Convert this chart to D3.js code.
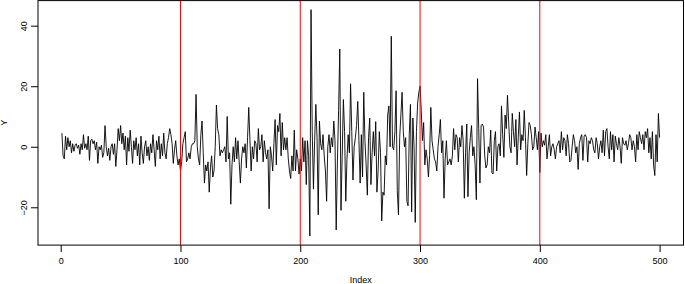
<!DOCTYPE html>
<html>
<head>
<meta charset="utf-8">
<script src="https://cdn.jsdelivr.net/npm/d3@7"></script>
<style>
  html, body { margin: 0; padding: 0; background: #fff; }
  svg { display: block; }
  text { font-family: "Liberation Sans", Arial, Helvetica, sans-serif; }
</style>
</head>
<body>
<svg id="chart" width="685" height="284"></svg>
<script>
// Series values, one array per 100-point stretch
const y001_100 = [4.5, -3, -4, 3.5, -1, 3, 0, 2, -2, 1,
  -1.5, 0.5, 1, -0.5, 0.5, -2.5, 1, -1, 4, -0.5,
  1, -1, 3.5, -4.5, 2, 2.5, 1, 2, -1, 1.5,
  -5.5, 0, -1, 0.5, -3.5, -2, 7, 0, -3, -0.5,
  -4.5, 0, 1, -2.5, 1, -6.5, -1, 6, 2, 7,
  1, 4.5, -1, 3.5, -6, 3, -1.5, 5.5, 0, -5.5,
  2, -1, 3, -3, 1, -6, 3.5, -2, -5.5, 0,
  2, -3, 0, -4.5, 1, -2, 4, -1, -6.5, 2,
  -1, 3.5, -4, 1, -3, 4.5, -2, -4, 1, 3,
  6, 4, 1, -5.5, -1, 2, -3, -6, -4, -8];
const y101_200 = [-5, 1, 3, 5, -5, -4, -2, -4, 0, 1,
  1, 2, 17.3, 0, -4, -6, 4, 8.5, -2, -12,
  -6, -8, -5, -15, -7, -3, -10, -8, 0, 13.8,
  6, 4, -3, -1, -2, -1, 0, -5, 10, -4,
  -2, -19, -6, 0, -5, 3, -4, 2, -5, -12,
  -4, 0, -2, 1, -7, 3, 13, 2, -8, 0,
  -4, 2, 1, -5, 6, -1, 0, 4, -5, 2,
  -2, -4, -1, -20.5, 0, -3, -8, 1, 9, -6,
  7, 5, 11, -3, 8, -1, 3, -1, 3, -4,
  -8, -10.5, -3, -8, 5.5, -8, -1, -4, -9, -4];
const y201_300 = [-8, 3, -5, 2, -12.5, 2, -3, -29.5, 45.3, 5,
  -14, 2, 14, 3, -22.5, 8.5, 1, -1, 4, -3,
  -8, -18, 0, 4, -2, 3, 0, 8.5, 2, -27.5,
  -5, 12, 32.3, -21, -3, 15.6, 5, -18, -4, 4,
  -2, 20.8, 5, -11, 0, 3, 7, 15, 2, -12,
  4, -10, 18, 2, -6, -16, 3, 9.5, -12.5, -2,
  5, -3, 8.3, -15, -8, 5, -2, -24.5, -15, -16,
  -3, -6, 10.5, 13.5, 0, 36.5, 0, -1, 5, 18.5,
  -14.5, -22.5, 3, 10.5, 18, 5, 0, 3, -18, -19.5,
  4, 14, -21.5, 9.5, 0, -25, 5, 14.5, 18, 20];
const y301_400 = [12, 2, 8, -6, -1, -4, -10, -3, 13, 2,
  -1, -4, -5, -8, 0, 4, 9, -2, 2, -17,
  -4, 2, -6, -5, -4, -6, -3, 6, -1, 4,
  3, -5, 3, 0, 7, 2, -17, -2, 7.5, -16.5,
  -2, 3, 7, -3, 0, -6, -17.5, 22.5, 6, -12,
  7, 7.5, 6.5, -3, -7, -6, 0, -2, 5.5, -8.5,
  -9, 2, 5, -8, 0, 1, -3, 13.5, 4, -3.5,
  10.5, 6, 17, 8, 0, -2, 11, 5, 0, 9,
  -6, 3, 11.5, -1, 4, 2, 12, 3, -9.5, 1,
  8, 7, 4, -1, 0, 6.5, 3, -1, 5, -8.5];
const y401_500 = [4.5, 0, 2, 0.5, 4, -4, 0, 4, -3, 0,
  1, -1, -4, 0, 1, 2, -2, 5, -1, 3,
  2, -3, 4, 1, -5, -4.5, 0, 4, 2, -2,
  0, -7.5, 1, 3, 4, -4.5, 3.5, 4, 3, -5,
  2, 1, 3, 2, -1, -2, 3, 1, -4, 0,
  2, -2, 5.5, -3, 5, 6, 0, -4, 5, -1,
  4, -5, 3.5, 1, -1, 3, 0, -5.5, 3, 1,
  0.5, 2, -1, 1, 4, 3, -1, 2, 0, -5,
  4, -1, 5, 3, 1, 4, -1, 5, 3, 6,
  -2, 3, -4, 5, -6, -9.5, 4, -5, 11, 3];

const vlines = [100, 200, 300, 400];
const xTicks = [0, 100, 200, 300, 400, 500];
const yTicks = [-20, 0, 20, 40];
const xLabel = "Index";
const yLabel = "Y";

const values = [].concat(y001_100, y101_200, y201_300, y301_400, y401_500);
const idx = values.map((d, i) => i + 1);

const box = { left: 38, right: 683.5, top: 0.6, bottom: 245.1 };

// R-style 4% domain extension
const xr = d3.extent(idx), yr = d3.extent(values);
const xe = (xr[1] - xr[0]) * 0.04, ye = (yr[1] - yr[0]) * 0.04;
const x = d3.scaleLinear().domain([xr[0] - xe, xr[1] + xe]).range([box.left, box.right]);
const y = d3.scaleLinear().domain([yr[0] - ye, yr[1] + ye]).range([box.bottom, box.top]);

const svg = d3.select("#chart");
svg.append("rect").attr("width", 685).attr("height", 284).attr("fill", "#fff");

// series line
svg.append("path")
  .datum(values)
  .attr("fill", "none")
  .attr("stroke", "#000")
  .attr("stroke-width", 0.9)
  .attr("stroke-linejoin", "round")
  .attr("d", d3.line().x((d, i) => x(i + 1)).y(d => y(d)));

// red reference lines
svg.selectAll("line.vline").data(vlines).join("line")
  .attr("class", "vline")
  .attr("x1", d => x(d)).attr("x2", d => x(d))
  .attr("y1", box.top).attr("y2", box.bottom)
  .attr("stroke", "#ff0000").attr("stroke-width", 1);

// box
svg.append("rect")
  .attr("x", box.left).attr("y", box.top)
  .attr("width", box.right - box.left).attr("height", box.bottom - box.top)
  .attr("fill", "none").attr("stroke", "#000").attr("stroke-width", 1);

// x axis
const gx = svg.append("g").attr("transform", `translate(0,${box.bottom})`)
  .call(d3.axisBottom(x).tickValues(xTicks).tickSize(7).tickFormat(d3.format("d")));
gx.select(".domain").remove();
gx.selectAll("line").attr("stroke", "#000");
gx.selectAll("text").attr("y", 19).attr("dy", 0)
  .attr("fill", "#000").style("font-size", "9px")
  .style("font-family", "'Liberation Sans', Arial, sans-serif");

// y axis
const gy = svg.append("g").attr("transform", `translate(${box.left},0)`)
  .call(d3.axisLeft(y).tickValues(yTicks).tickSize(7).tickFormat(d => d < 0 ? "\u2212" + Math.abs(d) : d));
gy.select(".domain").remove();
gy.selectAll("line").attr("stroke", "#000");
gy.selectAll("text")
  .attr("transform", "rotate(-90)")
  .attr("x", 0).attr("y", -11).attr("dy", 0)
  .style("text-anchor", "middle")
  .attr("fill", "#000").style("font-size", "9px")
  .style("font-family", "'Liberation Sans', Arial, sans-serif");

// axis titles
svg.append("text")
  .attr("x", (box.left + box.right) / 2).attr("y", 283)
  .attr("text-anchor", "middle").style("font-size", "9px").text(xLabel);
svg.append("text")
  .attr("transform", `translate(7,${(box.top + box.bottom) / 2}) rotate(-90)`)
  .attr("text-anchor", "middle").style("font-size", "9px").text(yLabel);
</script>
</body>
</html>
